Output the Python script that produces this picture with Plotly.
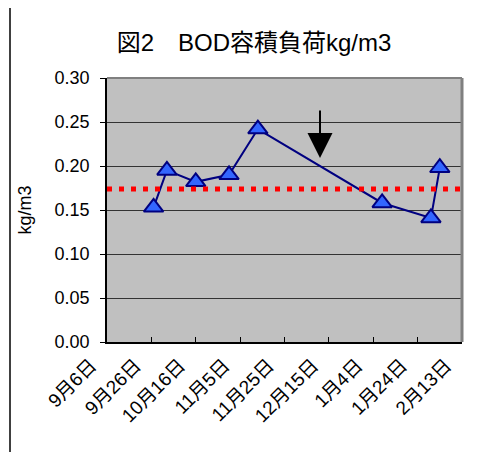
import plotly.graph_objects as go

# ---- data ----
dates = ["2008-09-27", "2008-10-03", "2008-10-16", "2008-10-31", "2008-11-13",
         "2009-01-08", "2009-01-30", "2009-02-03"]
bod_load = [0.153, 0.195, 0.182, 0.190, 0.242, 0.158, 0.141, 0.198]
average_load = 0.174
tick_dates = ["2008-09-06", "2008-09-26", "2008-10-16", "2008-11-05", "2008-11-25",
              "2008-12-15", "2009-01-04", "2009-01-24", "2009-02-13"]
tick_labels = ["9月6日", "9月26日", "10月16日", "11月5日", "11月25日",
               "12月15日", "1月4日", "1月24日", "2月13日"]
x_range = ["2008-09-06", "2009-02-13"]
arrow_date = "2008-12-11"
arrow_value = 0.209
y_ticks = [0.00, 0.05, 0.10, 0.15, 0.20, 0.25, 0.30]

FONT = "Liberation Sans, Arial, Noto Sans CJK JP"

fig = go.Figure()
fig.add_trace(go.Scatter(
    x=dates, y=bod_load, mode="lines+markers",
    line=dict(color="#000080", width=2),
    marker=dict(symbol="triangle-up", size=17, color="#3366FF",
                line=dict(color="#000080", width=2)),
    showlegend=False, cliponaxis=False))
fig.add_trace(go.Scatter(
    x=x_range, y=[average_load, average_load], mode="lines",
    line=dict(color="#FF0000", width=5, dash="5px,7px"),
    showlegend=False))

fig.add_annotation(x=arrow_date, y=arrow_value, xref="x", yref="y",
                   showarrow=True, arrowhead=2, arrowsize=2.5, arrowwidth=2,
                   arrowcolor="black", ax=0, ay=-49, text="")

# page is offset by the body margin (8px)
OFF = 8
W, H = 477 - OFF, 452 - OFF
L, R, T, B = 99, 15, 70, 110
pw, ph = W - L - R, H - T - B

def px(xp):
    return (xp - OFF - L) / pw

def py(yp):
    return (H - B - (yp - OFF)) / ph

shapes = [
    dict(type="line", xref="paper", yref="paper", x0=px(10), x1=px(10), y0=py(5), y1=py(470),
         line=dict(color="black", width=1.5)),
    dict(type="line", xref="paper", yref="paper", x0=0, x1=1, y0=1, y1=1,
         line=dict(color="#808080", width=2)),
    dict(type="line", xref="paper", yref="paper", x0=1, x1=1, y0=0, y1=1,
         line=dict(color="#808080", width=3)),
]

fig.update_layout(
    width=W, height=H,
    margin=dict(l=L, r=R, t=T, b=B),
    paper_bgcolor="white", plot_bgcolor="#C0C0C0",
    font=dict(family=FONT, color="black"),
    title=dict(text="図2　BOD容積負荷kg/m3", x=(254 - OFF) / W, xanchor="center",
               y=1 - (43 - OFF) / H, yanchor="middle",
               font=dict(size=24, family=FONT)),
    shapes=shapes,
    xaxis=dict(type="date", range=x_range, tickvals=tick_dates, ticktext=tick_labels,
               tickangle=-45, tickfont=dict(size=19, family=FONT),
               ticks="inside", ticklen=5, tickcolor="black",
               ticklabelstandoff=3, ticklabelshift=-16,
               showgrid=False, showline=True, linecolor="black", linewidth=1.5,
               zeroline=False),
    yaxis=dict(range=[0, 0.30], tickvals=y_ticks, tickformat=".2f",
               tickfont=dict(size=18, family=FONT),
               ticks="outside", ticklen=5, tickcolor="black",
               ticklabelstandoff=7,
               showgrid=True, gridcolor="#333333", gridwidth=1,
               showline=True, linecolor="black", linewidth=1.5, zeroline=False,
               title=dict(text="kg/m3", font=dict(size=18, family=FONT), standoff=18)),
)

fig.write_html("out.html")
